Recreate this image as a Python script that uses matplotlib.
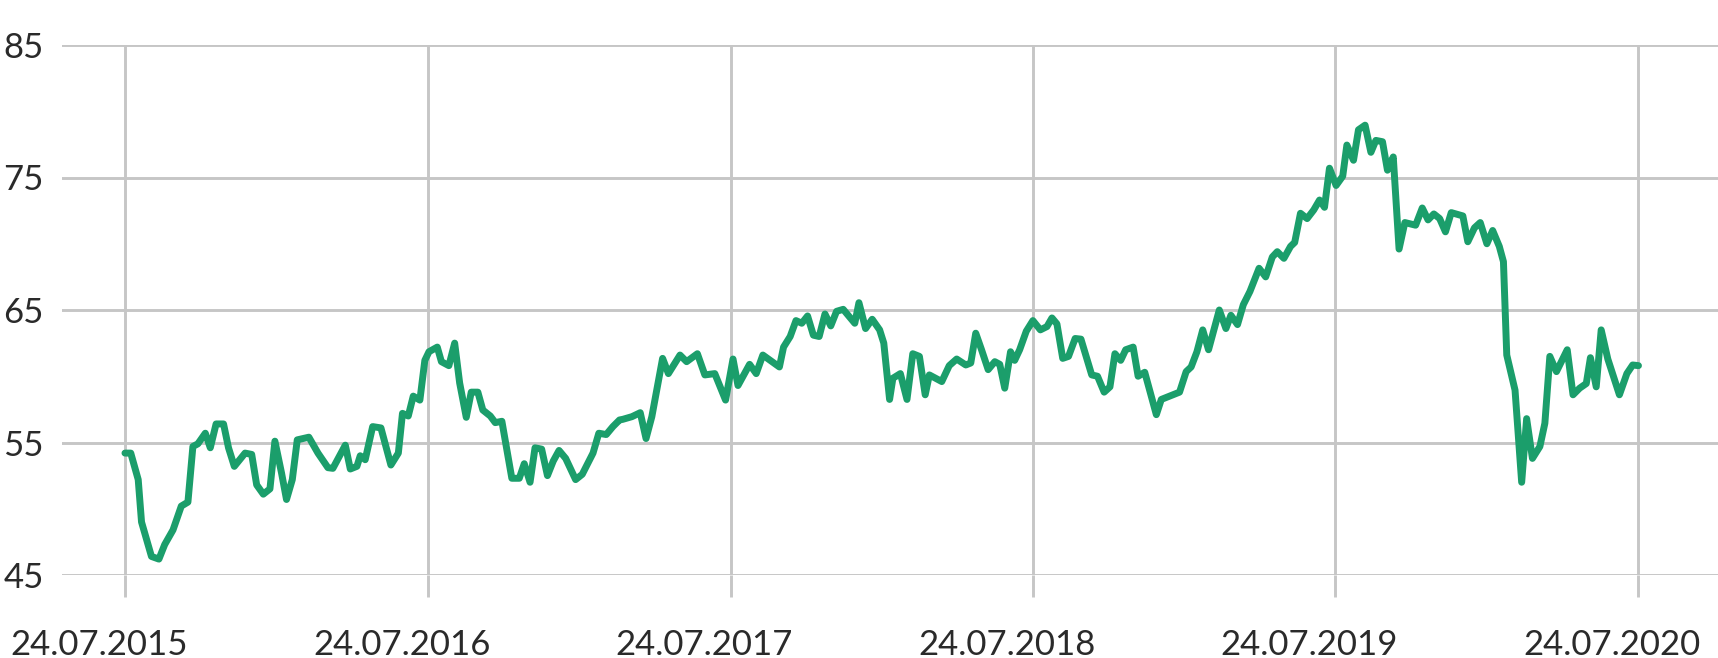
import matplotlib
matplotlib.use("Agg")
import matplotlib.pyplot as plt
import matplotlib.transforms as mtransforms
import pandas as pd

plt.rcParams['font.family'] = ['Lato', 'DejaVu Sans']

dates = [
    "2015-07-24", "2015-07-31", "2015-08-09", "2015-08-13", "2015-08-25", "2015-09-03", "2015-09-10",
    "2015-09-20", "2015-09-30", "2015-10-08", "2015-10-14", "2015-10-20", "2015-10-29", "2015-11-04",
    "2015-11-11", "2015-11-20", "2015-11-26", "2015-12-03", "2015-12-16", "2015-12-24", "2015-12-30",
    "2016-01-07", "2016-01-15", "2016-01-21", "2016-01-29", "2016-02-04", "2016-02-11", "2016-02-17",
    "2016-03-02", "2016-03-13", "2016-03-25", "2016-03-31", "2016-04-15", "2016-04-21", "2016-04-29",
    "2016-05-03", "2016-05-09", "2016-05-18", "2016-05-28", "2016-06-09", "2016-06-18", "2016-06-23",
    "2016-06-30", "2016-07-06", "2016-07-14", "2016-07-20", "2016-07-25", "2016-08-04", "2016-08-09",
    "2016-08-18", "2016-08-25", "2016-08-31", "2016-09-08", "2016-09-14", "2016-09-22", "2016-09-28",
    "2016-10-07", "2016-10-13", "2016-10-21", "2016-11-02", "2016-11-11", "2016-11-17", "2016-11-24",
    "2016-11-30", "2016-12-08", "2016-12-15", "2016-12-22", "2016-12-29", "2017-01-06", "2017-01-18",
    "2017-01-26", "2017-02-08", "2017-02-15", "2017-02-24", "2017-03-04", "2017-03-12", "2017-03-16",
    "2017-03-27", "2017-04-06", "2017-04-13", "2017-04-20", "2017-05-03", "2017-05-10", "2017-05-24",
    "2017-06-01", "2017-06-14", "2017-06-23", "2017-07-05", "2017-07-18", "2017-07-27", "2017-08-02",
    "2017-08-16", "2017-08-24", "2017-09-01", "2017-09-21", "2017-09-26", "2017-10-04", "2017-10-11",
    "2017-10-18", "2017-10-25", "2017-11-01", "2017-11-08", "2017-11-15", "2017-11-22", "2017-11-29",
    "2017-12-07", "2017-12-21", "2017-12-26", "2018-01-03", "2018-01-11", "2018-01-20", "2018-01-25",
    "2018-02-01", "2018-02-05", "2018-02-14", "2018-02-22", "2018-03-01", "2018-03-09", "2018-03-16",
    "2018-03-21", "2018-04-05", "2018-04-14", "2018-04-23", "2018-05-04", "2018-05-10", "2018-05-16",
    "2018-05-23", "2018-05-31", "2018-06-08", "2018-06-14", "2018-06-20", "2018-06-27", "2018-07-02",
    "2018-07-08", "2018-07-16", "2018-07-24", "2018-08-02", "2018-08-10", "2018-08-16", "2018-08-22",
    "2018-08-29", "2018-09-05", "2018-09-13", "2018-09-20", "2018-10-03", "2018-10-10", "2018-10-18",
    "2018-10-25", "2018-10-31", "2018-11-07", "2018-11-13", "2018-11-22", "2018-11-28", "2018-12-06",
    "2018-12-20", "2018-12-26", "2019-01-03", "2019-01-17", "2019-01-25", "2019-01-31", "2019-02-07",
    "2019-02-14", "2019-02-21", "2019-03-06", "2019-03-14", "2019-03-20", "2019-03-28", "2019-04-04",
    "2019-04-12", "2019-04-23", "2019-05-01", "2019-05-09", "2019-05-15", "2019-05-23", "2019-05-31",
    "2019-06-05", "2019-06-12", "2019-06-20", "2019-06-28", "2019-07-05", "2019-07-11", "2019-07-17",
    "2019-07-25", "2019-08-02", "2019-08-07", "2019-08-15", "2019-08-21", "2019-08-29", "2019-09-05",
    "2019-09-11", "2019-09-19", "2019-09-25", "2019-10-02", "2019-10-09", "2019-10-16", "2019-10-29",
    "2019-11-06", "2019-11-13", "2019-11-20", "2019-11-27", "2019-12-04", "2019-12-11", "2019-12-25",
    "2019-12-31", "2020-01-08", "2020-01-15", "2020-01-23", "2020-01-30", "2020-02-07", "2020-02-12",
    "2020-02-16", "2020-02-26", "2020-03-05", "2020-03-11", "2020-03-18", "2020-03-27", "2020-04-02",
    "2020-04-08", "2020-04-16", "2020-04-29", "2020-05-06", "2020-05-14", "2020-05-22", "2020-05-27",
    "2020-06-03", "2020-06-09", "2020-06-17", "2020-07-01", "2020-07-10", "2020-07-17", "2020-07-24",
]

values = [
    54.2, 54.2, 52.2, 49.0, 46.4, 46.2, 47.3,
    48.4, 50.2, 50.5, 54.7, 54.9, 55.7, 54.6,
    56.4, 56.4, 54.6, 53.2, 54.2, 54.1, 51.8,
    51.1, 51.5, 55.1, 52.7, 50.7, 52.2, 55.2,
    55.4, 54.2, 53.1, 53.05, 54.8, 53.0, 53.2,
    54.0, 53.7, 56.2, 56.1, 53.3, 54.2, 57.2,
    57.0, 58.5, 58.2, 61.2, 61.85, 62.2, 61.1,
    60.8, 62.5, 59.5, 56.9, 58.8, 58.8, 57.45,
    57.0, 56.5, 56.6, 52.3, 52.3, 53.4, 52.0,
    54.6, 54.5, 52.5, 53.6, 54.4, 53.8, 52.2,
    52.6, 54.2, 55.7, 55.6, 56.2, 56.7, 56.75,
    56.95, 57.25, 55.3, 56.95, 61.35, 60.2, 61.6,
    61.1, 61.7, 60.1, 60.2, 58.2, 61.3, 59.3,
    60.9, 60.2, 61.6, 60.7, 62.2, 63.0, 64.2,
    64.0, 64.55, 63.1, 63.0, 64.7, 63.8, 64.9,
    65.05, 64.0, 65.55, 63.6, 64.3, 63.5, 62.5,
    58.25, 59.85, 60.2, 58.25, 61.7, 61.5, 58.6,
    60.1, 59.6, 60.8, 61.3, 60.85, 61.0, 63.25,
    62.0, 60.5, 61.1, 60.9, 59.1, 61.85, 61.2,
    62.0, 63.4, 64.2, 63.5, 63.75, 64.4, 63.95,
    61.35, 61.5, 62.85, 62.8, 60.1, 60.0, 58.8,
    59.2, 61.7, 61.2, 62.0, 62.2, 60.0, 60.3,
    57.1, 58.25, 58.45, 58.8, 60.35, 60.7, 61.85,
    63.5, 62.0, 65.0, 63.6, 64.6, 63.9, 65.4,
    66.4, 68.15, 67.5, 69.0, 69.4, 68.9, 69.8,
    70.1, 72.3, 71.9, 72.55, 73.3, 72.75, 75.7,
    74.4, 75.1, 77.45, 76.3, 78.6, 78.95, 76.9,
    77.8, 77.7, 75.55, 76.55, 69.6, 71.6, 71.4,
    72.7, 71.8, 72.25, 71.9, 70.9, 72.35, 72.1,
    70.15, 71.2, 71.6, 70.0, 71.0, 69.8, 68.65,
    61.6, 58.95, 52.0, 56.8, 53.8, 54.7, 56.45,
    61.5, 60.35, 62.0, 58.6, 59.1, 59.45, 61.4,
    59.2, 63.5, 61.3, 58.6, 60.2, 60.85, 60.8,
]

x_ticks = ["2015-07-24", "2016-07-24", "2017-07-24", "2018-07-24", "2019-07-24", "2020-07-24"]
x_ticklabels = ["24.07.2015", "24.07.2016", "24.07.2017", "24.07.2018", "24.07.2019", "24.07.2020"]
y_ticks = [45, 55, 65, 75, 85]

W, H, DPI = 1718, 658, 100
fig = plt.figure(figsize=(W / DPI, H / DPI), dpi=DPI)
ax_left, ax_right, ax_top, ax_bottom = 62, 1718, 45, 575
ax = fig.add_axes([ax_left / W, 1 - ax_bottom / H, (ax_right - ax_left) / W, (ax_bottom - ax_top) / H])

x = pd.to_datetime(dates)
grid_c = "#c6c6c6"
text_c = "#2a2a2a"

ax.plot(x, values, color="#1b9e6b", lw=5.0, solid_joinstyle="round", solid_capstyle="round",
        zorder=3, clip_on=False)

start = pd.Timestamp(x_ticks[0])
ax.set_xlim(start - pd.Timedelta(days=76), start + pd.Timedelta(days=1923))
ax.set_ylim(45, 85)

ax.set_xticks(pd.to_datetime(x_ticks))
ax.set_xticklabels(x_ticklabels)
ax.set_yticks(y_ticks)
ax.set_yticklabels([str(v) for v in y_ticks])

ax.grid(True, color=grid_c, lw=2.1, zorder=0)
ax.set_axisbelow(True)
for s in ax.spines.values():
    s.set_visible(False)

ax.tick_params(axis="x", length=16, width=2.1, color=grid_c, pad=23, labelsize=25, labelcolor=text_c)
ax.tick_params(axis="y", length=0, pad=13, labelsize=25, labelcolor=text_c)

offset = mtransforms.ScaledTranslation(-26 / DPI, 0, fig.dpi_scale_trans)
for lab in ax.get_xticklabels():
    lab.set_transform(lab.get_transform() + offset)

fig.savefig("out.png", dpi=DPI)
